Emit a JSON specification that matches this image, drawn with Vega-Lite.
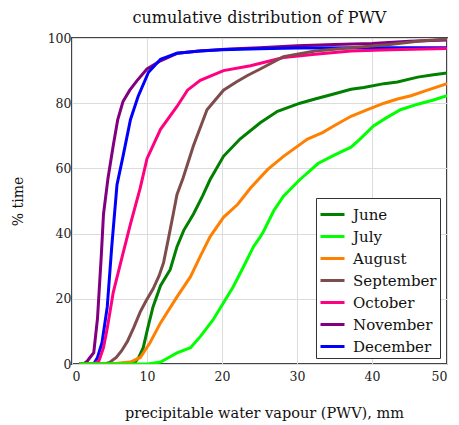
{
  "$schema": "https://vega.github.io/schema/vega-lite/v6.json",
  "autosize": "none",
  "width": 375,
  "height": 326,
  "padding": {"left": 72, "top": 38, "right": 12, "bottom": 61},
  "background": "white",
  "title": {"text": "cumulative distribution of PWV", "font": "DejaVu Serif", "fontSize": 16, "fontWeight": "normal", "color": "#111", "offset": 6},
  "config": {
    "view": {"stroke": "#444", "strokeWidth": 2},
    "axis": {"labelFont": "DejaVu Serif", "titleFont": "DejaVu Serif", "labelFontSize": 12.5, "titleFontSize": 14, "titleFontWeight": "normal", "labelColor": "#222", "titleColor": "#111", "domain": false, "ticks": false, "gridColor": "#dcdcdc", "gridWidth": 1}
  },
  "data": {"values": [
    {"m":"November","x":1.0,"y":0},{"m":"November","x":1.5,"y":0},{"m":"November","x":2.0,"y":0.8},{"m":"November","x":2.4,"y":2},{"m":"November","x":2.9,"y":3.5},{"m":"November","x":3.4,"y":14},{"m":"November","x":3.9,"y":33},{"m":"November","x":4.2,"y":46},{"m":"November","x":4.8,"y":57},{"m":"November","x":5.5,"y":67},{"m":"November","x":6.1,"y":75},{"m":"November","x":6.8,"y":80.5},{"m":"November","x":7.7,"y":84},{"m":"November","x":8.7,"y":87},{"m":"November","x":10.0,"y":90.5},{"m":"November","x":11.8,"y":93},{"m":"November","x":14.0,"y":95.3},{"m":"November","x":17,"y":96},{"m":"November","x":21,"y":96.6},{"m":"November","x":25,"y":97},{"m":"November","x":30,"y":97.6},{"m":"November","x":35,"y":98},{"m":"November","x":40,"y":98.3},{"m":"November","x":45,"y":99},{"m":"November","x":50,"y":99.4},
    {"m":"December","x":1.0,"y":0},{"m":"December","x":2.9,"y":0},{"m":"December","x":3.4,"y":2},{"m":"December","x":4.0,"y":6.5},{"m":"December","x":4.7,"y":17.5},{"m":"December","x":5.3,"y":36},{"m":"December","x":6.0,"y":55},{"m":"December","x":6.8,"y":63.7},{"m":"December","x":7.8,"y":75},{"m":"December","x":8.8,"y":82},{"m":"December","x":10.2,"y":89.5},{"m":"December","x":11.8,"y":93.5},{"m":"December","x":14.0,"y":95.3},{"m":"December","x":17,"y":96},{"m":"December","x":20,"y":96.4},{"m":"December","x":25,"y":96.7},{"m":"December","x":30,"y":96.9},{"m":"December","x":40,"y":97},{"m":"December","x":50,"y":97},
    {"m":"October","x":1.0,"y":0},{"m":"October","x":2.9,"y":0},{"m":"October","x":3.6,"y":1},{"m":"October","x":4.2,"y":5},{"m":"October","x":4.7,"y":11},{"m":"October","x":5.5,"y":22},{"m":"October","x":6.7,"y":33},{"m":"October","x":7.8,"y":43},{"m":"October","x":9.1,"y":54},{"m":"October","x":10.0,"y":63},{"m":"October","x":11.8,"y":72},{"m":"October","x":14.0,"y":79},{"m":"October","x":15.4,"y":84},{"m":"October","x":17.1,"y":87},{"m":"October","x":20.2,"y":90},{"m":"October","x":23.8,"y":91.5},{"m":"October","x":28.2,"y":94},{"m":"October","x":32.4,"y":95},{"m":"October","x":37.2,"y":96},{"m":"October","x":42.4,"y":96.4},{"m":"October","x":50,"y":96.8},
    {"m":"September","x":1.0,"y":0},{"m":"September","x":4.4,"y":0},{"m":"September","x":5.1,"y":0.6},{"m":"September","x":5.9,"y":2},{"m":"September","x":6.6,"y":4},{"m":"September","x":7.4,"y":7},{"m":"September","x":8.2,"y":11},{"m":"September","x":9.1,"y":16},{"m":"September","x":9.9,"y":19.5},{"m":"September","x":10.8,"y":23},{"m":"September","x":11.6,"y":27},{"m":"September","x":12.2,"y":31},{"m":"September","x":12.9,"y":39},{"m":"September","x":13.5,"y":46},{"m":"September","x":14.0,"y":52},{"m":"September","x":14.8,"y":57},{"m":"September","x":16.2,"y":67},{"m":"September","x":18.0,"y":78},{"m":"September","x":20.2,"y":84},{"m":"September","x":21.9,"y":86.5},{"m":"September","x":23.4,"y":88.5},{"m":"September","x":25.1,"y":90.5},{"m":"September","x":28.2,"y":94.3},{"m":"September","x":32.4,"y":96},{"m":"September","x":37.2,"y":97},{"m":"September","x":42.4,"y":98},{"m":"September","x":46.1,"y":99},{"m":"September","x":50,"y":99.7},
    {"m":"June","x":1.0,"y":0},{"m":"June","x":7.9,"y":0},{"m":"June","x":8.4,"y":0.5},{"m":"June","x":8.9,"y":2},{"m":"June","x":9.5,"y":5},{"m":"June","x":10.1,"y":11},{"m":"June","x":10.8,"y":17.5},{"m":"June","x":11.8,"y":24},{"m":"June","x":13.1,"y":29},{"m":"June","x":14.0,"y":36},{"m":"June","x":14.9,"y":41},{"m":"June","x":16.2,"y":46},{"m":"June","x":17.4,"y":51.5},{"m":"June","x":18.4,"y":56.5},{"m":"June","x":20.2,"y":63.7},{"m":"June","x":22.4,"y":69},{"m":"June","x":25.1,"y":74},{"m":"June","x":27.4,"y":77.5},{"m":"June","x":30.4,"y":80},{"m":"June","x":32.4,"y":81.3},{"m":"June","x":34.9,"y":82.8},{"m":"June","x":37.2,"y":84.3},{"m":"June","x":38.9,"y":84.8},{"m":"June","x":41.6,"y":86},{"m":"June","x":43.4,"y":86.5},{"m":"June","x":46.1,"y":88},{"m":"June","x":48.2,"y":88.7},{"m":"June","x":50,"y":89.3},
    {"m":"August","x":1.0,"y":0},{"m":"August","x":5.1,"y":0},{"m":"August","x":6.4,"y":0.3},{"m":"August","x":7.8,"y":0.6},{"m":"August","x":9.1,"y":2},{"m":"August","x":10.4,"y":6.5},{"m":"August","x":11.8,"y":12.6},{"m":"August","x":14.0,"y":20.6},{"m":"August","x":15.8,"y":26.8},{"m":"August","x":17.1,"y":33},{"m":"August","x":18.4,"y":39},{"m":"August","x":20.2,"y":45},{"m":"August","x":22.1,"y":49},{"m":"August","x":23.8,"y":54},{"m":"August","x":26.1,"y":59.7},{"m":"August","x":28.2,"y":63.7},{"m":"August","x":31.4,"y":69},{"m":"August","x":33.4,"y":71},{"m":"August","x":34.9,"y":73},{"m":"August","x":37.2,"y":76},{"m":"August","x":39.4,"y":78},{"m":"August","x":41.6,"y":80},{"m":"August","x":43.4,"y":81.3},{"m":"August","x":45.2,"y":82.3},{"m":"August","x":47.4,"y":84},{"m":"August","x":50,"y":86},
    {"m":"July","x":1.0,"y":0},{"m":"July","x":10.1,"y":0},{"m":"July","x":11.8,"y":0.6},{"m":"July","x":12.9,"y":2},{"m":"July","x":14.0,"y":3.4},{"m":"July","x":15.8,"y":5},{"m":"July","x":17.1,"y":8.4},{"m":"July","x":18.8,"y":13.5},{"m":"July","x":20.2,"y":18.8},{"m":"July","x":21.5,"y":23.7},{"m":"July","x":22.9,"y":30},{"m":"July","x":24.2,"y":36},{"m":"July","x":25.1,"y":39},{"m":"July","x":25.5,"y":40.5},{"m":"July","x":26.9,"y":47},{"m":"July","x":28.2,"y":51.5},{"m":"July","x":30.4,"y":56.6},{"m":"July","x":32.8,"y":61.5},{"m":"July","x":34.9,"y":64},{"m":"July","x":37.2,"y":66.5},{"m":"July","x":38.4,"y":69},{"m":"July","x":40.2,"y":73},{"m":"July","x":41.9,"y":75.5},{"m":"July","x":43.8,"y":78},{"m":"July","x":46.1,"y":79.7},{"m":"July","x":48.2,"y":81},{"m":"July","x":50,"y":82.3}
  ]},
  "mark": {"type": "line", "strokeWidth": 3, "clip": true},
  "encoding": {
    "x": {"field": "x", "type": "quantitative", "scale": {"domain": [0, 50], "nice": false, "zero": false},
      "axis": {"values": [0, 10, 20, 30, 40, 50], "labelPadding": 6, "labelDx": 4, "title": "precipitable water vapour (PWV), mm", "titleFontSize": 14.5, "titleX": 192, "titleY": 53, "titleBaseline": "alphabetic", "titleAnchor": "middle"}},
    "y": {"field": "y", "type": "quantitative", "scale": {"domain": [0, 100], "nice": false},
      "axis": {"values": [0, 20, 40, 60, 80, 100], "labelPadding": 1, "title": "% time", "titleX": -54, "titleY": 163, "titleBaseline": "middle", "titleAngle": -90}},
    "color": {"field": "m", "type": "nominal",
      "scale": {"domain": ["June", "July", "August", "September", "October", "November", "December"], "range": ["#007f00", "#00ff00", "#ff8000", "#7f4c4c", "#ff0080", "#800080", "#0000ff"]},
      "legend": {"title": null, "orient": "none", "legendX": 244, "legendY": 160, "symbolType": "stroke", "symbolSize": 576, "symbolStrokeWidth": 3, "labelFont": "DejaVu Serif", "labelFontSize": 15, "labelColor": "#111", "labelOffset": 7, "rowPadding": -2, "padding": 3, "strokeColor": "#333", "fillColor": "white"}},
    "order": {"field": "x", "type": "quantitative"}
  }
}
